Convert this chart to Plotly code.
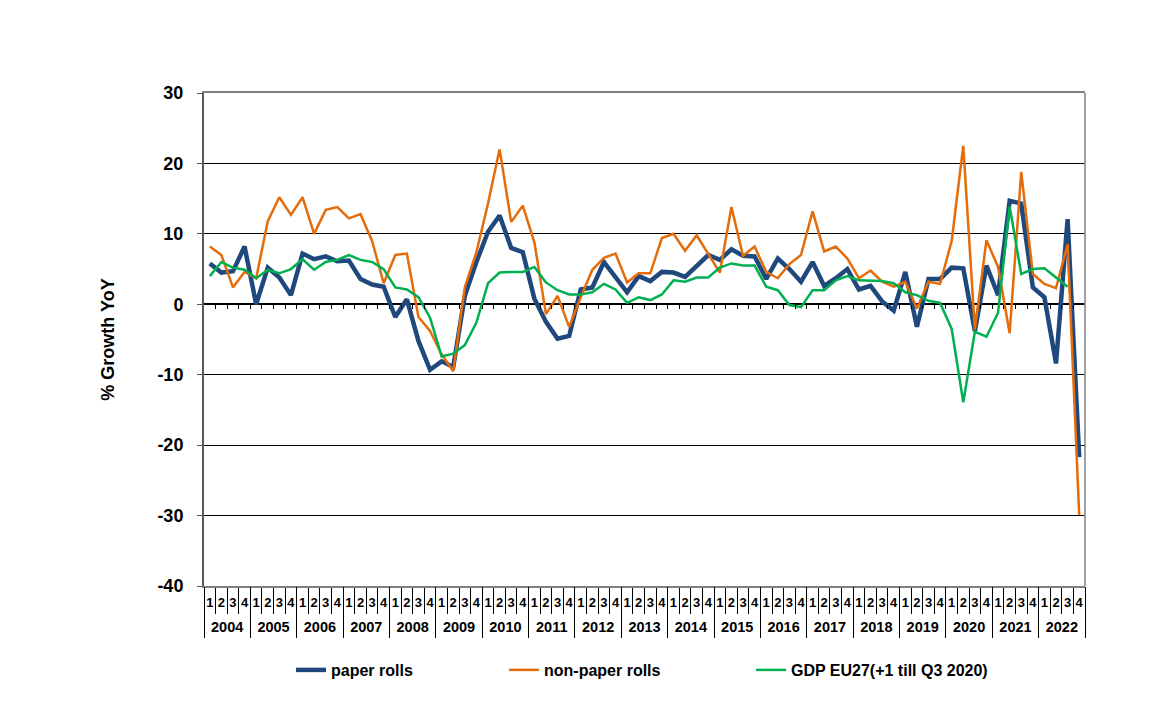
import plotly.graph_objects as go

years = [str(y) for y in range(2004, 2023)]
quarters = ["1", "2", "3", "4"]

paper_rolls = [5.8, 4.5, 4.7, 8.2, 0.0, 5.2, 3.8, 1.3, 7.2, 6.4, 6.8, 6.1, 6.2, 3.6, 2.8, 2.5,
               -1.8, 0.7, -5.2, -9.3, -8.1, -8.9, 1.2, 6.0, 10.3, 12.6,
               8.0, 7.4, 0.8, -2.5, -4.9, -4.5, 2.1, 2.4, 6.0, 3.8, 1.7, 4.0, 3.3, 4.6,
               4.5, 3.9, 5.5, 7.0, 6.3, 7.8, 6.9, 6.8, 3.6, 6.5,
               5.0, 3.2, 6.0, 2.6, 3.7, 5.0, 2.1, 2.6, 0.4, -0.9, 4.6, -3.2, 3.6, 3.6,
               5.2, 5.1, -3.8, 5.5, 1.3, 14.7, 14.3, 2.4, 1.0, -8.4, 12.1, -21.7]

non_paper_rolls = [8.2, 7.0, 2.4, 4.6, 3.7, 11.8, 15.2, 12.7, 15.2, 10.0, 13.4, 13.8, 12.2, 12.8,
                   9.0, 3.0, 7.0, 7.2, -1.8, -3.8, -7.1, -9.5, 2.4, 7.4, 14.3, 22.0,
                   11.7, 14.0, 8.8, -1.4, 1.2, -3.2, 1.0, 4.9, 6.6, 7.2, 3.1, 4.4, 4.4, 9.4,
                   10.0, 7.6, 9.8, 7.1, 4.5, 13.8, 6.9, 8.2, 4.6, 3.7,
                   5.7, 7.0, 13.2, 7.5, 8.2, 6.5, 3.7, 4.8, 3.2, 2.5, 3.2, -0.6, 3.2, 2.9,
                   9.0, 22.5, -3.6, 9.1, 5.3, -4.1, 18.8, 4.3, 2.9, 2.3, 8.5, -29.9]

gdp_eu27 = [4.0, 6.0, 5.2, 4.9, 3.7, 4.9, 4.4, 5.0, 6.4, 4.9, 6.0, 6.3, 7.0, 6.3, 6.0, 5.0,
            2.4, 2.1, 1.0, -1.9, -7.4, -7.0, -5.8, -2.6, 3.0, 4.5,
            4.6, 4.6, 5.3, 3.1, 2.0, 1.4, 1.4, 1.7, 2.9, 2.1, 0.2, 1.0, 0.6, 1.4,
            3.4, 3.2, 3.8, 3.8, 5.2, 5.8, 5.5, 5.5, 2.5, 2.0,
            -0.1, -0.4, 2.0, 2.0, 3.4, 4.0, 3.4, 3.4, 3.3, 3.0, 1.7, 1.3, 0.5, 0.2,
            -3.5, -13.9, -3.9, -4.6, -1.2, 13.9, 4.3, 5.0, 5.1, 3.8, 2.5, None]

y_ticks = [30, 20, 10, 0, -10, -20, -30, -40]

x_q = [q for y in years for q in quarters]
n = len(x_q)
nq = len(quarters)
x_idx = list(range(n))

FONT = "Arial, Liberation Sans, sans-serif"

fig = go.Figure()
fig.add_trace(go.Scatter(x=x_idx, y=paper_rolls, mode="lines", name="paper rolls",
                         line=dict(color="#1F497D", width=4.5), legend="legend"))
fig.add_trace(go.Scatter(x=x_idx, y=non_paper_rolls, mode="lines", name="non-paper rolls",
                         line=dict(color="#E46C0A", width=2.5), legend="legend2"))
fig.add_trace(go.Scatter(x=x_idx, y=gdp_eu27, mode="lines", name="GDP EU27(+1 till Q3 2020)",
                         line=dict(color="#00B050", width=2.5), legend="legend3"))
# helper traces for the extra axes (zero-line ticks, year row)
fig.add_trace(go.Scatter(x=[0], y=[None], xaxis="x2", yaxis="y", showlegend=False,
                         hoverinfo="skip", mode="lines"))
fig.add_trace(go.Scatter(x=[0], y=[None], xaxis="x3", yaxis="y", showlegend=False,
                         hoverinfo="skip", mode="lines"))

ymin, ymax = min(y_ticks), max(y_ticks)
zero_pos = (0 - ymin) / (ymax - ymin)

# page has 8px body margin; plot area targeted at x 204..1085, y 93..586
L, R, T, B = 196, 99, 85, 150
PW = 1176 - L - R
PH = 728 - T - B
leg_y = (578 - 662) / PH

legend_font = dict(family=FONT, size=16, color="black", weight="bold")
xr = [-0.5, n - 0.5]

fig.update_layout(
    width=1176, height=728,
    margin=dict(l=L, r=R, t=T, b=B),
    paper_bgcolor="white", plot_bgcolor="white",
    font=dict(family=FONT, color="black"),
    showlegend=True,
    xaxis=dict(
        range=xr,
        tickmode="array", tickvals=x_idx, ticktext=x_q, tickangle=0,
        ticks="", ticklen=0, ticklabelstandoff=4,
        showline=True, linecolor="#808080", linewidth=1.5, mirror=True,
        showgrid=False, zeroline=False,
        minor=dict(tickmode="array", tickvals=[i - 0.5 for i in range(n + 1)],
                   ticks="outside", ticklen=26, tickcolor="black", tickwidth=1,
                   showgrid=False),
        tickfont=dict(family=FONT, size=13, color="black", weight="bold"),
    ),
    xaxis2=dict(
        overlaying="x", anchor="free", position=zero_pos, side="bottom",
        range=xr,
        tickmode="array", tickvals=[i + 0.5 for i in range(n - 1)],
        ticks="outside", ticklen=4, tickcolor="black", tickwidth=1,
        showticklabels=False, showgrid=False, zeroline=False, showline=False,
    ),
    xaxis3=dict(
        overlaying="x", anchor="y", side="bottom",
        range=xr,
        tickmode="array",
        tickvals=[nq * k + (nq - 1) / 2 for k in range(len(years))],
        ticktext=years, tickangle=0,
        ticks="", ticklen=0, ticklabelstandoff=30,
        showgrid=False, zeroline=False, showline=False,
        minor=dict(tickmode="array", tickvals=[nq * k - 0.5 for k in range(len(years) + 1)],
                   ticks="outside", ticklen=51, tickcolor="black", tickwidth=1,
                   showgrid=False),
        tickfont=dict(family=FONT, size=14.5, color="black", weight="bold"),
    ),
    yaxis=dict(
        range=[ymin, ymax], tickmode="array", tickvals=y_ticks,
        ticktext=[str(v) for v in y_ticks],
        showgrid=True, gridcolor="black", gridwidth=1,
        zeroline=True, zerolinecolor="black", zerolinewidth=1.5,
        showline=True, linecolor="#595959", linewidth=2,
        ticks="outside", ticklen=5, tickcolor="#595959",
        ticklabelstandoff=10,
        tickfont=dict(family=FONT, size=18, color="black", weight="bold"),
        title=dict(text="% Growth YoY", standoff=38,
                   font=dict(family=FONT, size=18, color="black", weight="bold")),
    ),
    legend=dict(orientation="h", x=(291 - 204) / PW, y=leg_y,
                xanchor="left", yanchor="middle", font=legend_font,
                bgcolor="rgba(0,0,0,0)"),
    legend2=dict(orientation="h", x=(504 - 204) / PW, y=leg_y,
                 xanchor="left", yanchor="middle", font=legend_font,
                 bgcolor="rgba(0,0,0,0)"),
    legend3=dict(orientation="h", x=(751 - 204) / PW, y=leg_y,
                 xanchor="left", yanchor="middle", font=legend_font,
                 bgcolor="rgba(0,0,0,0)"),
    shapes=[
        dict(type="line", xref="paper", yref="paper", x0=1, x1=1, y0=0, y1=1,
             line=dict(color="#808080", width=1.5)),
    ],
)

fig.write_html("out.html")
